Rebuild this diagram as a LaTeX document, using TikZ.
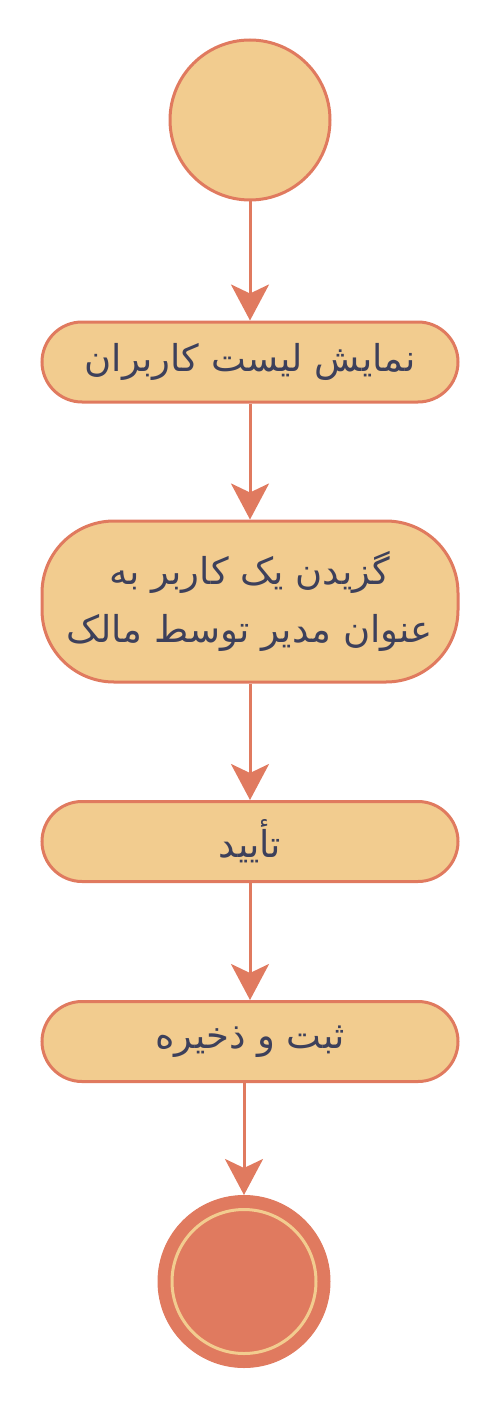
\documentclass[tikz,border=0pt]{standalone}
\usepackage{fontspec}
\TeXXeTstate=1
\newfontfamily\arabicfont[Script=Arabic]{DejaVu Sans}
\usetikzlibrary{arrows.meta}
\definecolor{boxfill}{HTML}{F2CC8F}
\definecolor{boxline}{HTML}{E07A5F}
\definecolor{txt}{HTML}{3D405B}
\tikzset{
  actbox/.style={draw=boxline, fill=boxfill, line width=3pt, rounded corners=40pt,
    minimum width=416pt, minimum height=80pt, inner sep=0pt, text=txt,
    font=\arabicfont\fontsize{37}{58}\selectfont, align=center},
  flow/.style={draw=boxline, line width=3pt, -{Stealth[length=36pt, width=38pt, inset=9pt, fill=boxline]}},
}
\begin{document}
\begin{tikzpicture}[x=1pt, y=-1pt]
\useasboundingbox (0,0) rectangle (500,1404);
\node[circle, draw=boxline, fill=boxfill, line width=3pt, minimum size=160pt, inner sep=0pt] (start) at (250,120) {};
\node[actbox] (b1) at (250,362) {\beginR نمایش لیست کاربران\endR};
\node[actbox, minimum height=161pt, rounded corners=72pt] (b2) at (250,601.5) {\beginR گزیدن یک کاربر به\endR\\ \beginR عنوان مدیر توسط مالک\endR};
\node[actbox] (b3) at (250,841.5) {\beginR تأیید\endR};
\node[actbox] (b4) at (250,1041.5) {\beginR ثبت و ذخیره\endR};
\node[circle, fill=boxline, draw=boxline, line width=1pt, minimum size=172pt, inner sep=0pt] (end) at (244,1281.5) {};
\draw[boxfill, line width=3pt] (end.center) circle[radius=72pt];
\draw[flow] (start) -- (b1);
\draw[flow] (b1) -- (b2);
\draw[flow] (b2) -- (b3);
\draw[flow] (b3) -- (b4);
\draw[flow] (b4.south -| end.north) -- (end);
\end{tikzpicture}
\end{document}
